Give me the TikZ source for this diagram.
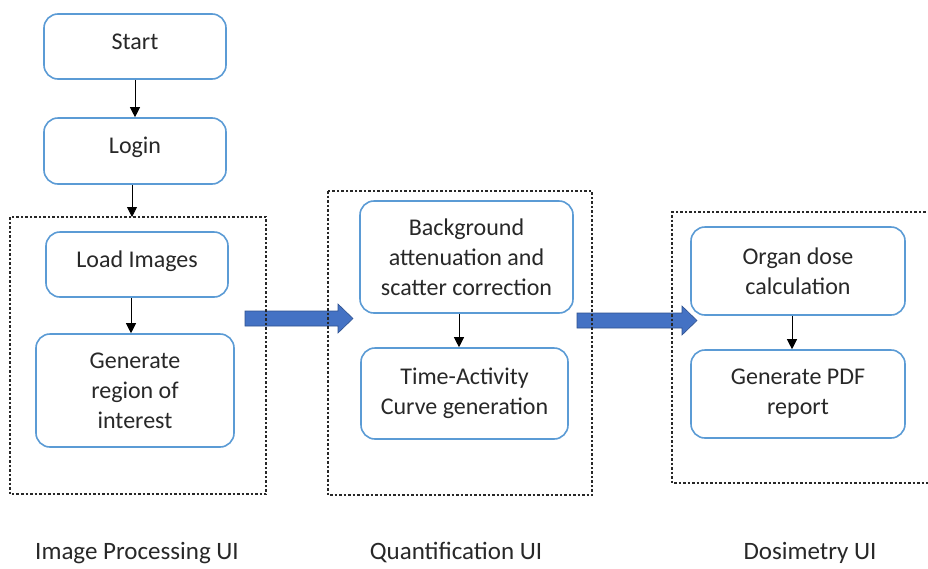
\documentclass[tikz,border=0pt]{standalone}
\usepackage{fontspec}
\setmainfont{Carlito}
\usetikzlibrary{arrows.meta,calc}
\definecolor{boxline}{RGB}{91,155,213}
\definecolor{flowblue}{RGB}{68,114,196}
\definecolor{flowedge}{RGB}{47,82,143}
\definecolor{txt}{RGB}{40,40,40}
\definecolor{dotline}{RGB}{40,40,40}
% single-line labels sit a little above the box centre
\newcommand{\oneline}[1]{\raisebox{-2.5pt}[0pt][0pt]{#1}}
\begin{document}
\begin{tikzpicture}[x=1pt,y=-1pt,
  stepbox/.style={draw=boxline, line width=1.6pt, rounded corners=14pt, fill=white,
    align=center, text=txt, font=\fontsize{24}{30}\selectfont, inner sep=0pt},
  flow/.style={draw=black, line width=0.8pt, -{Triangle[length=10pt,width=10pt]}},
  group/.style={draw=dotline, line width=1.4pt, dash pattern=on 2.5pt off 2pt},
  bigarrow/.style={fill=flowblue, draw=flowedge, line width=0.6pt},
  caption/.style={text=txt, font=\fontsize{25}{30}\selectfont}]
\useasboundingbox (0,0) rectangle (928,568);
\fill[white] (0,0) rectangle (928,568);

% steps
\node[stepbox, minimum width=182pt, minimum height=65pt] (start) at (135,46.5) {\oneline{Start}};
\node[stepbox, minimum width=182pt, minimum height=66pt] (login) at (135,151) {\oneline{Login}};
\node[stepbox, minimum width=182pt, minimum height=65pt] (load) at (137,264.5) {\oneline{Load Images}};
\node[stepbox, minimum width=198pt, minimum height=113pt] (roi) at (135,390.5) {Generate\\region of\\interest};
\node[stepbox, minimum width=213pt, minimum height=112pt] (bkg) at (466.5,257) {Background\\attenuation and\\scatter correction};
\node[stepbox, minimum width=207pt, minimum height=91pt] (tac) at (464.5,393.5) {Time-Activity\\Curve generation};
\node[stepbox, minimum width=214pt, minimum height=88pt] (organ) at (798,271) {Organ dose\\calculation};
\node[stepbox, minimum width=214pt, minimum height=88pt] (pdf) at (798,394) {Generate PDF\\report};

% group frame corners
\coordinate (g1tl) at (10,217);
\coordinate (g1br) at (266,494);
\coordinate (g2tl) at (328,191);
\coordinate (g2br) at (592,495);
\coordinate (g3tl) at (672,212);
\coordinate (g3bl) at (672,483);

% thin flow arrows
\draw[flow] (start) -- (login);
\draw[flow] ([xshift=-3pt]login.south) -- ([xshift=-3pt]login.south |- g1tl);
\draw[flow] ([xshift=-6pt]load.south) -- ([xshift=-6pt]load.south |- roi.north);
\draw[flow] ([xshift=-7.5pt]bkg.south) -- ([xshift=-7.5pt]bkg.south |- tac.north);
\draw[flow] ([xshift=-6pt]organ.south) -- ([xshift=-6pt]organ.south |- pdf.north);

% block arrows between the stages
\coordinate (a1) at (245,318.5);
\coordinate (a2) at (577,320.5);
\draw[bigarrow] ($(a1)+(0,-7.5)$) -- ++(93,0) -- ++(0,-7) -- ++(15,14.5) -- ++(-15,14.5) -- ++(0,-7) -- ++(-93,0) -- cycle;
\draw[bigarrow] ($(a2)+(0,-7.5)$) -- ++(105,0) -- ++(0,-7) -- ++(15,14.5) -- ++(-15,14.5) -- ++(0,-7) -- ++(-105,0) -- cycle;

% dotted stage frames
\draw[group] (g1tl) rectangle (g1br);
\draw[group] (g2tl) rectangle (g2br);
\draw[group] (930,212) -- (g3tl) -- (g3bl) -- (930,483);

% stage captions
\node[caption] (cap1) at (137,553) {Image Processing UI};
\node[caption] (cap2) at (456,553) {Quantification UI};
\node[caption] (cap3) at (810,553) {Dosimetry UI};
\end{tikzpicture}
\end{document}
